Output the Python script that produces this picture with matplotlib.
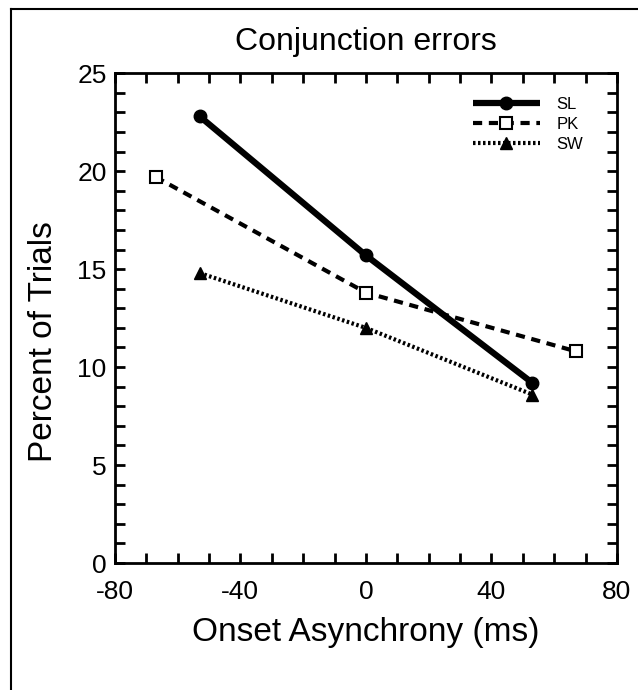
import matplotlib.pyplot as plt
from matplotlib.lines import Line2D

plt.rcParams['font.family'] = ['Liberation Sans', 'DejaVu Sans']
plt.rcParams['axes.unicode_minus'] = False

SOA_SL = [-53, 0, 53]
SL = [22.8, 15.7, 9.2]
SOA_PK = [-67, 0, 67]
PK = [19.7, 13.8, 10.8]
SOA_SW = [-53, 0, 53]
SW = [14.8, 12.0, 8.6]

fig = plt.figure(figsize=(6.38, 6.9), dpi=100)
ax = fig.add_axes([0.180, 0.184, 0.787, 0.710])

ax.plot(SOA_SL, SL, color='black', lw=4.5, marker='o', ms=9,
        solid_capstyle='butt', label='SL')
ax.plot(SOA_PK, PK, color='black', lw=3, ls=(0, (2.2, 1.6)), marker='s', ms=9,
        mfc='white', mec='black', mew=1.5, label='PK')
ax.plot(SOA_SW, SW, color='black', lw=3, ls=(0, (0.6, 0.6)), marker='^', ms=9,
        label='SW')

ax.set_xlim(-80, 80)
ax.set_ylim(0, 25)
ax.set_xticks([-80, -40, 0, 40, 80])
ax.set_xticks(range(-80, 81, 10), minor=True)
ax.set_yticks([0, 5, 10, 15, 20, 25])
ax.set_yticks(range(0, 26), minor=True)
ax.tick_params(which='both', direction='in', top=True, right=True,
               length=7.5, width=2, labelsize=19)
ax.tick_params(axis='x', pad=12)
ax.tick_params(axis='y', pad=6)
for s in ax.spines.values():
    s.set_linewidth(2)

ax.set_title('Conjunction errors', fontsize=23, pad=17)
ax.set_xlabel('Onset Asynchrony (ms)', fontsize=24, va='center')
ax.xaxis.set_label_coords(0.5, -0.141)
ax.set_ylabel('Percent of Trials', fontsize=24, va='center')
ax.yaxis.set_label_coords(-0.143, 0.453)

ax.legend(loc='upper left', bbox_to_anchor=(0.713, 0.952), frameon=False,
          fontsize=12, numpoints=1, handlelength=4.0, handletextpad=1.0,
          labelspacing=0.3, borderpad=0, borderaxespad=0)

# outer frame (left and top edges visible)
fig.add_artist(Line2D([11/638, 11/638], [0, 1 - 9/690], color='black', lw=1.5,
                      transform=fig.transFigure))
fig.add_artist(Line2D([11/638, 1], [1 - 9/690, 1 - 9/690], color='black', lw=1.5,
                      transform=fig.transFigure))

fig.savefig('out.png', dpi=100)
